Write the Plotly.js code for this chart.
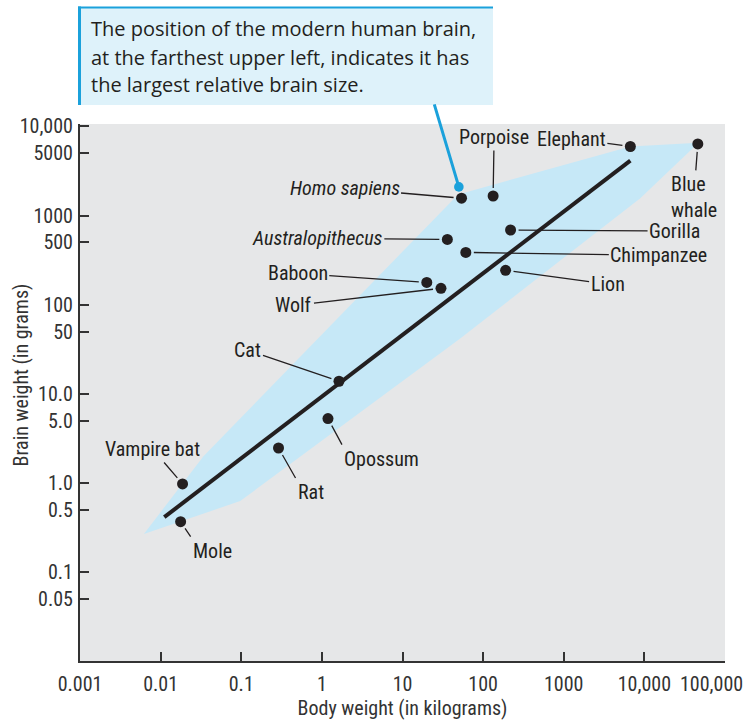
<!DOCTYPE html>
<html>
<head>
<meta charset="utf-8">
<script src="https://cdn.plot.ly/plotly-3.0.1.min.js"></script>
<style>
  html, body { margin: 0; padding: 0; background: #ffffff; }
  #chart { width: 748px; height: 720px; }
</style>
</head>
<body>
<div id="chart"></div>
<script>
// ---------------- DATA ----------------
const animals = ['Elephant', 'Blue whale', 'Homo sapiens', 'Porpoise', 'Gorilla',
  'Australopithecus', 'Chimpanzee', 'Lion', 'Baboon', 'Wolf', 'Cat', 'Opossum',
  'Rat', 'Vampire bat', 'Mole'];
const labelText = ['Elephant', 'Blue<br>whale', '<i>Homo sapiens</i>', 'Porpoise', 'Gorilla',
  '<i>Australopithecus</i>', 'Chimpanzee', 'Lion', 'Baboon', 'Wolf', 'Cat', 'Opossum',
  'Rat', 'Vampire bat', 'Mole'];
const bodyKg  = [6700, 46000, 54, 133, 219, 36, 61, 190, 20, 30, 1.63, 1.19, 0.29, 0.0187, 0.0177];
const brainG  = [5960, 6370, 1570, 1660, 690, 541, 387, 244, 178, 153, 13.9, 5.3, 2.48, 0.98, 0.37];

// fitted trend line (end points)
const fitBodyKg = [0.0111, 6700];
const fitBrainG = [0.416, 4140];

// light-blue envelope polygon
const envBodyKg = [0.0062, 0.034, 49, 6700, 47000, 8900, 52, 0.097, 0.0062];
const envBrainG = [0.27, 2.0, 1730, 5960, 6580, 1570, 42, 0.63, 0.27];

// callout target (where the blue pointer lands)
const calloutTarget = {bodyKg: 50, brainG: 2100};
const calloutLines = ['The position of the modern human brain,',
  'at the farthest upper left, indicates it has',
  'the largest relative brain size.'];

const xTickVals = [0.001, 0.01, 0.1, 1, 10, 100, 1000, 10000, 100000];
const xTickText = ['0.001', '0.01', '0.1', '1', '10', '100', '1000', '10,000', '100,000'];
const yTickVals = [0.05, 0.1, 0.5, 1, 5, 10, 50, 100, 500, 1000, 5000, 10000];
const yTickText = ['0.05', '0.1', '0.5', '1.0', '5.0', '10.0', '50', '100', '500', '1000', '5000', '10,000'];

const xTitle = 'Body weight (in kilograms)';
const yTitle = 'Brain weight (in grams)';

// ---------------- STYLE / LAYOUT ----------------
const W = 748, H = 720;
const M = {l: 80, r: 23, t: 124, b: 59};
const PW = W - M.l - M.r, PH = H - M.t - M.b;
const fx = px => (px - M.l) / PW;
const fy = py => (H - M.b - py) / PH;

const NARROW = '"Noto Sans Condensed", "Roboto Condensed", "Liberation Sans Narrow", Roboto, sans-serif';
const INK = '#231f20';
const AXIS = '#333333';
const CYAN = '#1ba1db';

// the last x tick label sits flush with the figure's right edge (as in the original),
// so it is drawn as an annotation anchored at its tick; the axis keeps the tick itself.
const lastX = xTickVals.length - 1;
const xTickShown = xTickText.map((t, i) => i === lastX ? '' : t);

// label placement: [ax, ay, xanchor, yanchor, align]
const labelPos = {
  'Elephant':        [-59, -8, 'center', 'middle', 'center'],
  'Blue whale':      [-4, 53, 'center', 'middle', 'left'],
  'Homo sapiens':    [-117, -10, 'center', 'middle', 'center'],
  'Porpoise':        [1, -59, 'center', 'middle', 'center'],
  'Gorilla':         [164, 1, 'center', 'middle', 'center'],
  'Australopithecus':[-130, -1, 'center', 'middle', 'center'],
  'Chimpanzee':      [193, 3, 'center', 'middle', 'center'],
  'Lion':            [102, 14, 'center', 'middle', 'center'],
  'Baboon':          [-129, -9, 'center', 'middle', 'center'],
  'Wolf':            [-147, 17, 'center', 'middle', 'center'],
  'Cat':             [-91, -31, 'center', 'middle', 'center'],
  'Opossum':         [14, 26, 'left', 'top', 'left'],
  'Rat':             [17, 30, 'left', 'top', 'left'],
  'Vampire bat':     [-30, -35, 'center', 'middle', 'center'],
  'Mole':            [10, 15, 'left', 'top', 'left']
};

const traces = [
  {
    type: 'scatter', mode: 'lines',
    x: envBodyKg, y: envBrainG,
    fill: 'toself', fillcolor: '#c6e8f7',
    line: {width: 0, color: 'rgba(0,0,0,0)'},
    hoverinfo: 'skip', showlegend: false
  },
  {
    type: 'scatter', mode: 'lines',
    x: fitBodyKg, y: fitBrainG,
    line: {width: 4, color: INK},
    hoverinfo: 'skip', showlegend: false
  },
  {
    type: 'scatter', mode: 'markers',
    x: bodyKg, y: brainG, text: animals,
    marker: {size: 11, color: INK},
    hoverinfo: 'text', showlegend: false
  }
];

const annotations = animals.map((name, i) => {
  const p = labelPos[name];
  return {
    x: Math.log10(bodyKg[i]), y: Math.log10(brainG[i]),
    xref: 'x', yref: 'y',
    text: labelText[i],
    showarrow: true, arrowhead: 0, arrowwidth: 1.3, arrowcolor: INK,
    standoff: 8, ax: p[0], ay: p[1],
    xanchor: p[2], yanchor: p[3], align: p[4],
    borderpad: 1,
    font: {family: NARROW, size: 20, color: INK}
  };
});

// last x tick label
annotations.push({
  xref: 'x', yref: 'paper', x: Math.log10(xTickVals[lastX]), y: fy(684),
  xanchor: 'right', yanchor: 'middle', xshift: 20, showarrow: false,
  text: xTickText[lastX], font: {family: NARROW, size: 20, color: AXIS}
});

// blue pointer from the callout box
annotations.push({
  x: Math.log10(calloutTarget.bodyKg), y: Math.log10(calloutTarget.brainG),
  xref: 'x', yref: 'y', text: '',
  showarrow: true, arrowhead: 6, arrowsize: 0.8, arrowwidth: 3, arrowcolor: CYAN,
  ax: -25, ay: -84, standoff: 0
});

// callout text lines
const lineCenters = [28.6, 57.1, 84.6];
calloutLines.forEach((t, k) => {
  annotations.push({
    xref: 'paper', yref: 'paper', x: fx(89), y: fy(lineCenters[k]),
    xanchor: 'left', yanchor: 'middle', showarrow: false, align: 'left',
    text: t, font: {family: '"Open Sans", "Noto Sans", sans-serif', size: 20, color: INK}
  });
});

// y axis title
annotations.push({
  xref: 'paper', yref: 'paper', x: fx(20.5), y: fy(375),
  xanchor: 'center', yanchor: 'middle', showarrow: false, textangle: -90,
  text: yTitle, font: {family: NARROW, size: 20, color: AXIS}
});

const shapes = [
  {type: 'rect', xref: 'paper', yref: 'paper', x0: fx(78), x1: fx(493), y0: fy(105), y1: fy(7),
   fillcolor: '#def2fa', line: {width: 0}, layer: 'above'},
  {type: 'line', xref: 'paper', yref: 'paper', x0: fx(78), x1: fx(493), y0: fy(7.5), y1: fy(7.5),
   line: {color: CYAN, width: 2}, layer: 'above'},
  {type: 'line', xref: 'paper', yref: 'paper', x0: fx(79.5), x1: fx(79.5), y0: fy(105), y1: fy(6.5),
   line: {color: CYAN, width: 3}, layer: 'above'}
];

const axisCommon = {
  type: 'log', tickmode: 'array',
  showline: true, linecolor: AXIS, linewidth: 2,
  ticks: 'inside', ticklen: 9, tickwidth: 2, tickcolor: AXIS,
  showgrid: false, zeroline: false, mirror: false,
  tickfont: {family: NARROW, size: 20, color: AXIS},
  ticklabeloverflow: 'allow',
  fixedrange: true
};

const layout = {
  width: W, height: H,
  margin: M,
  paper_bgcolor: '#ffffff',
  plot_bgcolor: '#e6e7e8',
  showlegend: false,
  xaxis: Object.assign({}, axisCommon, {
    range: [-3, 5],
    tickvals: xTickVals, ticktext: xTickShown,
    ticklabelstandoff: 4,
    title: {text: xTitle, font: {family: NARROW, size: 20, color: AXIS}, standoff: 4}
  }),
  yaxis: Object.assign({}, axisCommon, {
    range: [-1.994, 4.0275],
    tickvals: yTickVals, ticktext: yTickText,
    ticklabelstandoff: 1
  }),
  annotations: annotations,
  shapes: shapes
};

Plotly.newPlot('chart', traces, layout, {displayModeBar: false, staticPlot: true});
</script>
</body>
</html>
